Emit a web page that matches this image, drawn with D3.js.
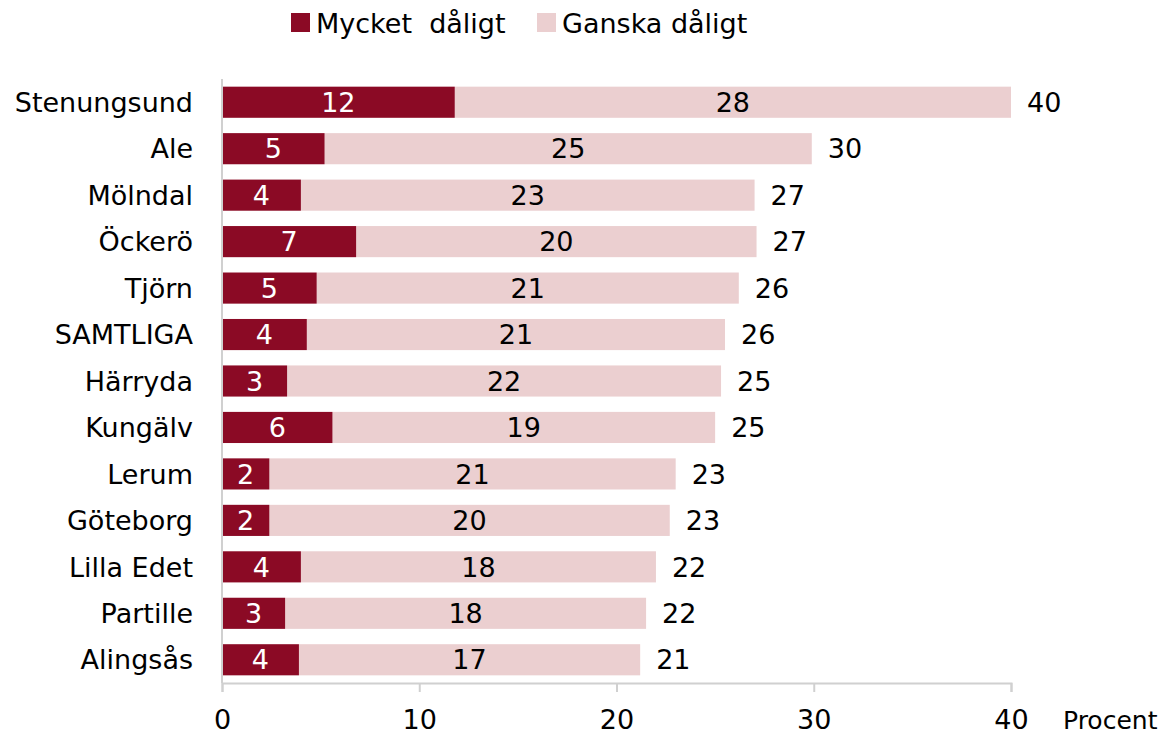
<!DOCTYPE html>
<html>
<head>
<meta charset="utf-8">
<script src="https://cdn.jsdelivr.net/npm/d3@7"></script>
<style>
  body { margin: 0; background: #fff; }
  text { font-family: "DejaVu Sans", sans-serif; }
</style>
</head>
<body>
<svg id="chart"></svg>
<script>
const kommuner = ["Stenungsund", "Ale", "Mölndal", "Öckerö", "Tjörn", "SAMTLIGA", "Härryda",
  "Kungälv", "Lerum", "Göteborg", "Lilla Edet", "Partille", "Alingsås"];
const mycket = [11.8, 5.2, 4.0, 6.8, 4.8, 4.3, 3.3, 5.6, 2.4, 2.4, 4.0, 3.2, 3.9];
const ganska = [28.2, 24.7, 23.0, 20.3, 21.4, 21.2, 22.0, 19.4, 20.6, 20.3, 18.0, 18.3, 17.3];
const mycketLabels = [12, 5, 4, 7, 5, 4, 3, 6, 2, 2, 4, 3, 4];
const ganskaLabels = [28, 25, 23, 20, 21, 21, 22, 19, 21, 20, 18, 18, 17];
const totalLabels = [40, 30, 27, 27, 26, 26, 25, 25, 23, 23, 22, 22, 21];
const xTicks = [0, 10, 20, 30, 40];
const seriesNames = ["Mycket  dåligt", "Ganska dåligt"];
const colors = ["#8b0a25", "#ebcfd0"];

const width = 1171, height = 735;
const svg = d3.select("#chart").attr("width", width).attr("height", height);

const x = d3.scaleLinear().domain([0, 40]).range([222, 1011]);
const y = d3.scaleBand().domain(kommuner).range([79, 683]).paddingInner(0.33).paddingOuter(0.165);

const rows = kommuner.map((k, i) => ({
  name: k, m: mycket[i], g: ganska[i],
  ml: mycketLabels[i], gl: ganskaLabels[i], tl: totalLabels[i]
}));

const row = svg.selectAll(".row")
  .data(rows)
  .enter()
  .append("g")
  .attr("class", "row");

row.append("rect")
  .attr("x", d => x(d.m))
  .attr("y", d => y(d.name))
  .attr("width", d => x(d.m + d.g) - x(d.m))
  .attr("height", y.bandwidth())
  .attr("fill", colors[1]);

row.append("rect")
  .attr("x", x(0))
  .attr("y", d => y(d.name))
  .attr("width", d => x(d.m) - x(0))
  .attr("height", y.bandwidth())
  .attr("fill", colors[0]);

const fs = "27px";
const mid = d => y(d.name) + y.bandwidth() / 2;

row.append("text")
  .attr("x", d => (x(0) + x(d.m)) / 2)
  .attr("y", mid)
  .attr("dy", "0.36em")
  .attr("text-anchor", "middle")
  .style("font-size", fs)
  .style("fill", "#fff")
  .text(d => d.ml);

row.append("text")
  .attr("x", d => (x(d.m) + x(d.m + d.g)) / 2)
  .attr("y", mid)
  .attr("dy", "0.36em")
  .attr("text-anchor", "middle")
  .style("font-size", fs)
  .style("fill", "#000")
  .text(d => d.gl);

row.append("text")
  .attr("x", d => x(d.m + d.g) + 16)
  .attr("y", mid)
  .attr("dy", "0.36em")
  .style("font-size", fs)
  .style("fill", "#000")
  .text(d => d.tl);

row.append("text")
  .attr("x", 193)
  .attr("y", mid)
  .attr("dy", "0.36em")
  .attr("text-anchor", "end")
  .style("font-size", fs)
  .style("fill", "#000")
  .text(d => d.name);

// axes
const axisColor = "#d0d0d0";
svg.append("line")
  .attr("x1", x(0)).attr("x2", x(0))
  .attr("y1", 79).attr("y2", 683)
  .attr("stroke", axisColor).attr("stroke-width", 2);

const xAxis = svg.append("g")
  .attr("transform", "translate(0,683)")
  .call(d3.axisBottom(x).tickValues(xTicks).tickSize(9).tickPadding(18));
xAxis.select(".domain").attr("stroke", axisColor).attr("stroke-width", 2);
xAxis.selectAll(".tick line").attr("stroke", axisColor).attr("stroke-width", 2);
xAxis.selectAll(".tick text")
  .style("font-family", "DejaVu Sans, sans-serif")
  .style("font-size", fs)
  .attr("fill", "#000");

svg.append("text")
  .attr("x", 1063)
  .attr("y", 729)
  .style("font-size", "25px")
  .text("Procent");

// legend
const legend = svg.append("g");
const legendX = [291, 537];
seriesNames.forEach((s, i) => {
  legend.append("rect")
    .attr("x", legendX[i]).attr("y", 13)
    .attr("width", 19).attr("height", 19)
    .attr("fill", colors[i]);
  legend.append("text")
    .attr("x", legendX[i] + 25)
    .attr("y", 33)
    .style("font-size", fs)
    .style("white-space", "pre")
    .attr("xml:space", "preserve")
    .text(s);
});
</script>
</body>
</html>
